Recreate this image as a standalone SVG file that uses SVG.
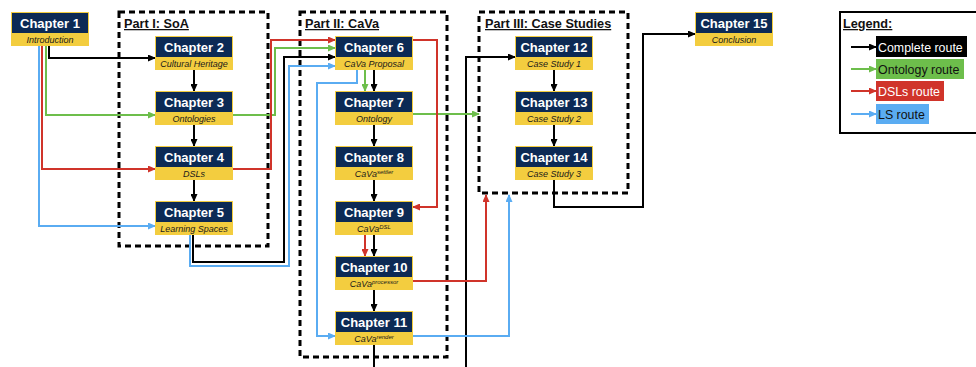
<svg xmlns="http://www.w3.org/2000/svg" width="976" height="367" viewBox="0 0 976 367">
  <style>
    .sub { fill: #f3cd3f; }
    .head { fill: #0c2a55; }
    .title { font-family: "Liberation Sans", Arial, sans-serif; font-weight: bold; font-size: 13px; fill: #fff; text-anchor: middle; }
    .desc { font-family: "Liberation Sans", Arial, sans-serif; font-style: italic; font-size: 9px; fill: #1a1a1a; text-anchor: middle; }
    .sup { font-size: 6px; }
    .part { font-family: "Liberation Sans", Arial, sans-serif; font-weight: bold; font-size: 12.7px; fill: #111; text-decoration: underline; }
    .frame { fill: none; stroke: #000; stroke-width: 3; stroke-dasharray: 6 4; }
    .conn path { fill: none; stroke-width: 2; }
    .k { stroke: #000; marker-end: url(#ak); }
    .g { stroke: #6dbe4b; marker-end: url(#ag); }
    .r { stroke: #d0342a; marker-end: url(#ar); }
    .b { stroke: #5aacf2; marker-end: url(#ab); }
    .plain { marker-end: none !important; }
    .lgtext { font-family: "Liberation Sans", Arial, sans-serif; font-size: 12.4px; }
  </style>
  <defs>
    <marker id="ak" markerUnits="userSpaceOnUse" markerWidth="8" markerHeight="7" refX="7" refY="3.5" orient="auto"><path d="M0,0 L8,3.5 L0,7 z" fill="#000"/></marker>
    <marker id="ag" markerUnits="userSpaceOnUse" markerWidth="8" markerHeight="7" refX="7" refY="3.5" orient="auto"><path d="M0,0 L8,3.5 L0,7 z" fill="#6dbe4b"/></marker>
    <marker id="ar" markerUnits="userSpaceOnUse" markerWidth="8" markerHeight="7" refX="7" refY="3.5" orient="auto"><path d="M0,0 L8,3.5 L0,7 z" fill="#d0342a"/></marker>
    <marker id="ab" markerUnits="userSpaceOnUse" markerWidth="8" markerHeight="7" refX="7" refY="3.5" orient="auto"><path d="M0,0 L8,3.5 L0,7 z" fill="#5aacf2"/></marker>
  </defs>

  <rect width="976" height="367" fill="#fff"/>

  <!-- part frames -->
  <g id="part1">
    <rect class="frame" x="119" y="12" width="149" height="234"/>
    <text class="part" x="124" y="28">Part I: SoA</text>
  </g>
  <g id="part2">
    <rect class="frame" x="300" y="12" width="147" height="345"/>
    <text class="part" x="305" y="28">Part II: CaVa</text>
  </g>
  <g id="part3">
    <rect class="frame" x="479" y="12" width="149" height="181"/>
    <text class="part" x="485" y="28">Part III: Case Studies</text>
  </g>

  <!-- connectors -->
  <g id="connectors" class="conn">
    <!-- complete route -->
    <path class="k" d="M49,46 V58 H155"/>
    <path class="k" d="M194,70 V91"/>
    <path class="k" d="M194,125 V146"/>
    <path class="k" d="M194,180 V201"/>
    <path class="k" d="M193,235 V262 H284 V57 H335"/>
    <path class="k" d="M374,70 V91"/>
    <path class="k" d="M374,125 V146"/>
    <path class="k" d="M374,180 V201"/>
    <path class="k" d="M374,235 V256"/>
    <path class="k" d="M374,290 V311"/>
    <path class="k plain" d="M374,345 V368"/>
    <path class="k" d="M466,368 V57 H515"/>
    <path class="k" d="M554,70 V91"/>
    <path class="k" d="M554,125 V146"/>
    <path class="k" d="M554,180 V207 H643 V34 H695"/>
    <!-- ontology route -->
    <path class="g" d="M46,46 V115 H155"/>
    <path class="g" d="M233,115 H275 V48 H335"/>
    <path class="g" d="M365,70 V91"/>
    <path class="g" d="M413,114 H479"/>
    <!-- DSLs route -->
    <path class="r" d="M42,46 V169 H155"/>
    <path class="r" d="M233,169 H271 V40 H335"/>
    <path class="r" d="M413,40 H437 V207 H413"/>
    <path class="r" d="M365,235 V256"/>
    <path class="r" d="M413,281 H486 V195"/>
    <!-- LS route -->
    <path class="b" d="M39,46 V226 H155"/>
    <path class="b" d="M190,235 V266 H289 V66 H335"/>
    <path class="b" d="M357,70 V83 H317 V336 H335"/>
    <path class="b" d="M413,336 H509 V195"/>
  </g>

  <!-- chapters -->
  <g id="ch1" transform="translate(11,12)">
    <rect class="sub" width="78" height="34"/><rect class="head" x="1" y="1" width="76" height="20"/>
    <text class="title" x="39" y="16">Chapter 1</text><text class="desc" x="39" y="31">Introduction</text>
  </g>
  <g id="ch2" transform="translate(155,36)">
    <rect class="sub" width="78" height="34"/><rect class="head" x="1" y="1" width="76" height="20"/>
    <text class="title" x="39" y="16">Chapter 2</text><text class="desc" x="39" y="31">Cultural Heritage</text>
  </g>
  <g id="ch3" transform="translate(155,91)">
    <rect class="sub" width="78" height="34"/><rect class="head" x="1" y="1" width="76" height="20"/>
    <text class="title" x="39" y="16">Chapter 3</text><text class="desc" x="39" y="31">Ontologies</text>
  </g>
  <g id="ch4" transform="translate(155,146)">
    <rect class="sub" width="78" height="34"/><rect class="head" x="1" y="1" width="76" height="20"/>
    <text class="title" x="39" y="16">Chapter 4</text><text class="desc" x="39" y="31">DSLs</text>
  </g>
  <g id="ch5" transform="translate(155,201)">
    <rect class="sub" width="78" height="34"/><rect class="head" x="1" y="1" width="76" height="20"/>
    <text class="title" x="39" y="16">Chapter 5</text><text class="desc" x="39" y="31">Learning Spaces</text>
  </g>
  <g id="ch6" transform="translate(335,36)">
    <rect class="sub" width="78" height="34"/><rect class="head" x="1" y="1" width="76" height="20"/>
    <text class="title" x="39" y="16">Chapter 6</text><text class="desc" x="39" y="31">CaVa Proposal</text>
  </g>
  <g id="ch7" transform="translate(335,91)">
    <rect class="sub" width="78" height="34"/><rect class="head" x="1" y="1" width="76" height="20"/>
    <text class="title" x="39" y="16">Chapter 7</text><text class="desc" x="39" y="31">Ontology</text>
  </g>
  <g id="ch8" transform="translate(335,146)">
    <rect class="sub" width="78" height="34"/><rect class="head" x="1" y="1" width="76" height="20"/>
    <text class="title" x="39" y="16">Chapter 8</text><text class="desc" x="39" y="31">CaVa<tspan class="sup" dy="-3">settler</tspan></text>
  </g>
  <g id="ch9" transform="translate(335,201)">
    <rect class="sub" width="78" height="34"/><rect class="head" x="1" y="1" width="76" height="20"/>
    <text class="title" x="39" y="16">Chapter 9</text><text class="desc" x="39" y="31">CaVa<tspan class="sup" dy="-3">DSL</tspan></text>
  </g>
  <g id="ch10" transform="translate(335,256)">
    <rect class="sub" width="78" height="34"/><rect class="head" x="1" y="1" width="76" height="20"/>
    <text class="title" x="39" y="16">Chapter 10</text><text class="desc" x="39" y="31">CaVa<tspan class="sup" dy="-3">processor</tspan></text>
  </g>
  <g id="ch11" transform="translate(335,311)">
    <rect class="sub" width="78" height="34"/><rect class="head" x="1" y="1" width="76" height="20"/>
    <text class="title" x="39" y="16">Chapter 11</text><text class="desc" x="39" y="31">CaVa<tspan class="sup" dy="-3">render</tspan></text>
  </g>
  <g id="ch12" transform="translate(515,36)">
    <rect class="sub" width="78" height="34"/><rect class="head" x="1" y="1" width="76" height="20"/>
    <text class="title" x="39" y="16">Chapter 12</text><text class="desc" x="39" y="31">Case Study 1</text>
  </g>
  <g id="ch13" transform="translate(515,91)">
    <rect class="sub" width="78" height="34"/><rect class="head" x="1" y="1" width="76" height="20"/>
    <text class="title" x="39" y="16">Chapter 13</text><text class="desc" x="39" y="31">Case Study 2</text>
  </g>
  <g id="ch14" transform="translate(515,146)">
    <rect class="sub" width="78" height="34"/><rect class="head" x="1" y="1" width="76" height="20"/>
    <text class="title" x="39" y="16">Chapter 14</text><text class="desc" x="39" y="31">Case Study 3</text>
  </g>
  <g id="ch15" transform="translate(695,12)">
    <rect class="sub" width="78" height="34"/><rect class="head" x="1" y="1" width="76" height="20"/>
    <text class="title" x="39" y="16">Chapter 15</text><text class="desc" x="39" y="31">Conclusion</text>
  </g>

  <!-- legend -->
  <g id="legend" class="conn">
    <rect x="840" y="12" width="150" height="121" fill="#fff" stroke="#000" stroke-width="2"/>
    <text class="part" x="843" y="28">Legend:</text>
    <path class="k" d="M851,47 H876"/>
    <rect x="876" y="36" width="91" height="21" fill="#000"/>
    <text class="lgtext" x="878" y="51.5" fill="#fff">Complete route</text>
    <path class="g" d="M851,69 H876"/>
    <rect x="876" y="59" width="88" height="20" fill="#6dbe4b"/>
    <text class="lgtext" x="878" y="74" fill="#111">Ontology route</text>
    <path class="r" d="M851,91 H876"/>
    <rect x="876" y="81" width="68" height="20" fill="#d0342a"/>
    <text class="lgtext" x="878" y="96" fill="#fff">DSLs route</text>
    <path class="b" d="M851,114 H876"/>
    <rect x="876" y="104" width="53" height="20" fill="#5aacf2"/>
    <text class="lgtext" x="878" y="119" fill="#111">LS route</text>
  </g>
</svg>
